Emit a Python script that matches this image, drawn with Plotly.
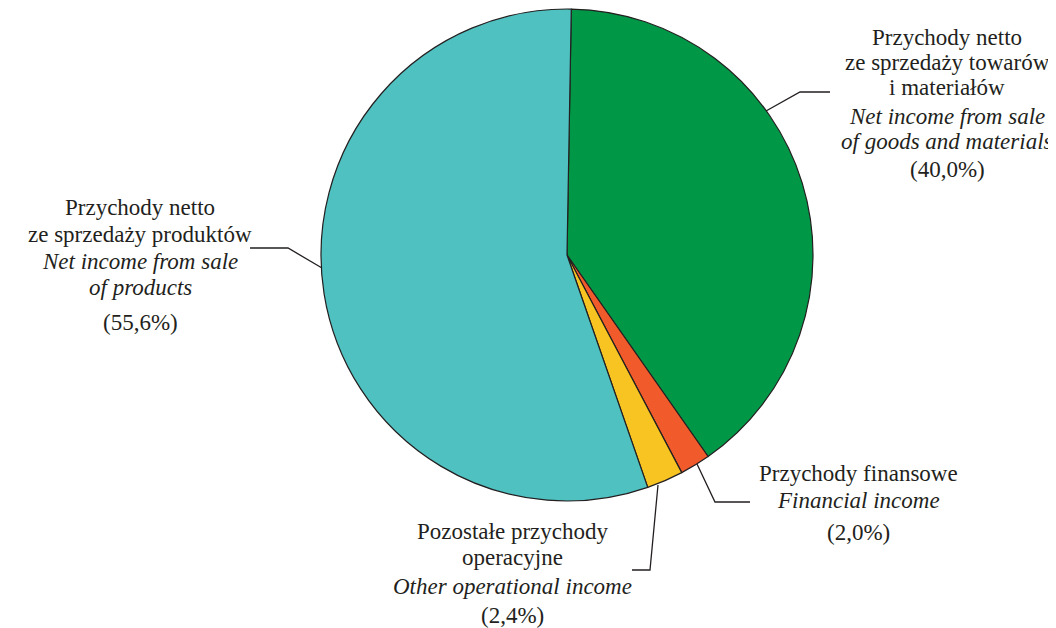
import plotly.graph_objects as go

categories = ["Przychody netto ze sprzedaży towarów i materiałów",
              "Przychody finansowe",
              "Pozostałe przychody operacyjne",
              "Przychody netto ze sprzedaży produktów"]
values = [40.0, 2.0, 2.4, 55.6]
colors = ["#009846", "#F15A2B", "#F8C421", "#4FC1C0"]

OFF = 8  # page body margin
W, H = 1048, 620
FONT = "Times New Roman"
TXT = "#231f20"

def px(x):
    return (x - OFF) / W

def py(y):
    return 1 - (y - OFF) / H

fig = go.Figure()
# empty cartesian trace (no marks) so the figure has a hidden cartesian subplot
fig.add_trace(go.Scatter(x=[], y=[], showlegend=False, hoverinfo="skip"))

# label blocks: (center x, [(text, y, italic)])
labels = [
    (947, [("Przychody netto", 38, False), ("ze sprzedaży towarów", 62, False),
           ("i materiałów", 87, False), ("Net income from sale", 116, True),
           ("of goods and materials", 142, True), ("(40,0%)", 170, False)]),
    (140, [("Przychody netto", 208, False), ("ze sprzedaży produktów", 234, False),
           ("Net income from sale", 261, True), ("of products", 287, True),
           ("(55,6%)", 322, False)]),
    (858, [("Przychody finansowe", 473, False), ("Financial income", 500, True),
           ("(2,0%)", 532, False)]),
    (512, [("Pozostałe przychody", 531, False), ("operacyjne", 557, False),
           ("Other operational income", 586, True), ("(2,4%)", 615, False)]),
]
for cx, lines in labels:
    for t, y, it in lines:
        fig.add_annotation(
            x=px(cx), y=py(y), xref="paper", yref="paper",
            text=f"<i>{t}</i>" if it else t, showarrow=False,
            xanchor="center", yanchor="middle",
            font=dict(family=FONT, size=23),
        )

fig.add_trace(go.Pie(
    labels=categories, values=values, sort=False, direction="clockwise",
    rotation=1, textinfo="none", hoverinfo="label+percent",
    marker=dict(colors=colors, line=dict(color=TXT, width=1.2)),
    domain=dict(x=[px(321), px(813)], y=[py(501), py(9)]),
    showlegend=False,
))

leaders = [
    [(766, 111), (800, 92), (830, 92)],
    [(322, 268), (288, 248), (250, 248)],
    [(697, 464), (715, 502), (750, 502)],
    [(658, 485), (650, 570), (632, 570)],
]
for pts in leaders:
    path = "M " + " L ".join(f"{px(x)},{py(y)}" for x, y in pts)
    fig.add_shape(type="path", path=path, xref="paper", yref="paper",
                  line=dict(color=TXT, width=1.3))

fig.update_layout(
    width=W, height=H, margin=dict(l=0, r=0, t=0, b=0),
    font=dict(family=FONT, color=TXT),
    xaxis=dict(visible=False), yaxis=dict(visible=False),
    paper_bgcolor="white", plot_bgcolor="white",
    showlegend=False,
)
fig.write_html("out.html")
